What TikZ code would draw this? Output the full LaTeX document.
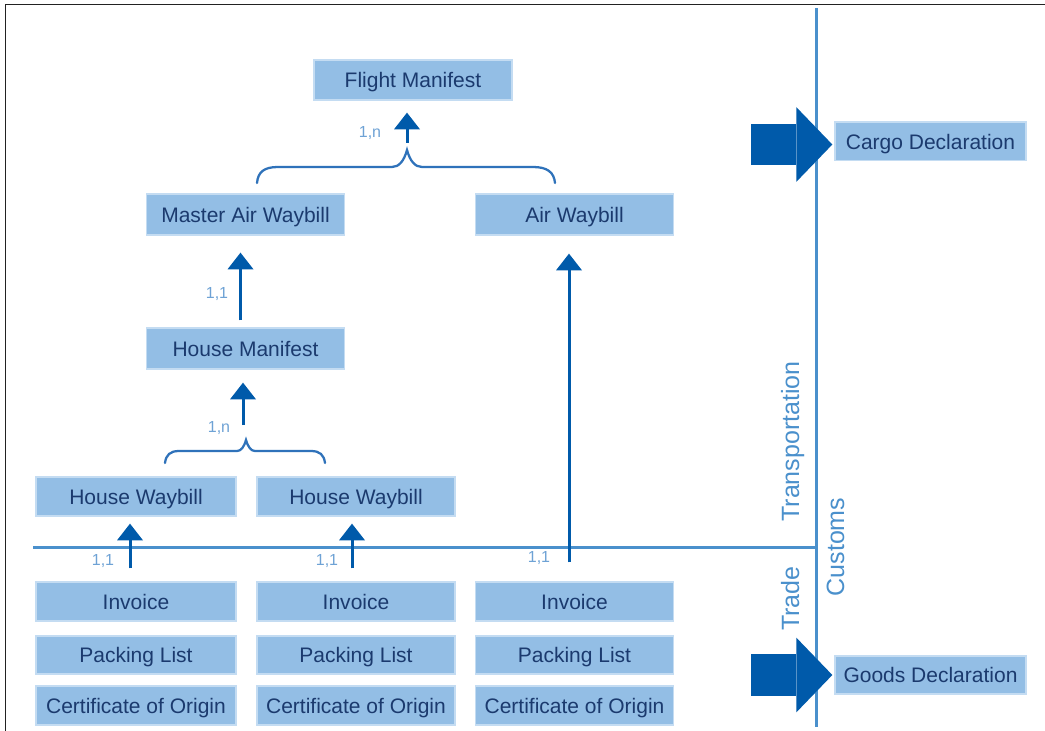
\documentclass[tikz,border=0pt]{standalone}
\usepackage{fontspec}
\setmainfont{Liberation Sans}
\usetikzlibrary{arrows.meta,calc}
\definecolor{boxfill}{HTML}{93BEE5}
\definecolor{boxedge}{HTML}{C4DCF2}
\definecolor{textcol}{HTML}{1B3A6E}
\definecolor{arrowcol}{HTML}{005AAA}
\definecolor{linecol}{HTML}{4A90CC}
\definecolor{labelcol}{HTML}{6EA2D5}
\definecolor{bracecol}{HTML}{2F72BA}
\definecolor{framecol}{HTML}{222222}
\newdimen\unitpx
\unitpx=0.75pt
\tikzset{
  box/.style={draw=boxedge, line width=1pt, fill=boxfill, minimum width=148.5pt,
    minimum height=30pt, inner sep=0pt, text=textcol,
    font=\fontsize{15.75}{18}\selectfont, text height=11.3pt, text depth=0pt},
  decl/.style={box, minimum width=143.25pt, minimum height=29pt},
  arr/.style={draw=arrowcol, line width=2.25pt,
    -{Triangle[width=19.5pt, length=12.5pt, line width=0pt]}},
  bigarr/.style={draw=arrowcol, line width=31pt,
    -{Triangle[width=56pt, length=27pt, line width=0pt]}},
  brace/.style={draw=bracecol, line width=1.7pt, line cap=round},
  divider/.style={draw=linecol, line width=2.25pt},
  lab/.style={text=labelcol, font=\fontsize{12}{12}\selectfont, anchor=base, inner sep=0pt},
  side/.style={text=linecol, font=\fontsize{18.75}{20}\selectfont, rotate=90, anchor=base, inner sep=0pt},
  frame/.style={draw=framecol, line width=1.3pt}
}
\begin{document}
\begin{tikzpicture}[x=0.75pt, y=-0.75pt]
\useasboundingbox (0,0) rectangle (1045,731);
\fill[white] (0,0) rectangle (1045,731);
\draw[frame] (5.5,731) -- (5.5,4.5) -- (1045,4.5);

% dividers
\coordinate (vtop) at (816,8);
\coordinate (vbot) at (816,727);
\coordinate (hleft) at (33,547);
\coordinate (hright) at (816,547);
\draw[divider] (vtop) -- (vbot);
\draw[divider] (hleft) -- (hright);

% nodes
\node[box] (fm) at (413,80) {Flight Manifest};
\node[box, minimum height=30.75pt] (maw) at (245.5,214.5) {Master Air Waybill};
\node[box, minimum height=30.75pt] (aw) at (574.5,214.5) {Air Waybill};
\node[box, minimum height=30.75pt] (hm) at (245.5,348.5) {House Manifest};
\node[box, minimum width=150pt, minimum height=29.25pt] (hw1) at (136,496.5) {House Waybill};
\node[box, minimum height=29.25pt] (hw2) at (356,496.5) {House Waybill};

\node[box, minimum width=150pt, minimum height=29.25pt] (inv1) at (136,601.5) {Invoice};
\node[box, minimum height=29.25pt] (inv2) at (356,601.5) {Invoice};
\node[box, minimum height=29.25pt] (inv3) at (574.5,601.5) {Invoice};
\node[box, minimum width=150pt, minimum height=28.5pt] (pl1) at (136,655) {Packing List};
\node[box, minimum height=28.5pt] (pl2) at (356,655) {Packing List};
\node[box, minimum height=28.5pt] (pl3) at (574.5,655) {Packing List};
\node[box, minimum width=150pt, minimum height=29.25pt] (co1) at (136,705.5) {Certificate of Origin};
\node[box, minimum height=29.25pt] (co2) at (356,705.5) {Certificate of Origin};
\node[box, minimum height=29.25pt] (co3) at (574.5,705.5) {Certificate of Origin};

\node[decl] (cargo) at (930.5,141.5) {Cargo Declaration};
\node[decl, minimum height=28.5pt] (goods) at (930.5,675) {Goods Declaration};

% braces
\coordinate (fmpeak) at (407,150);
\coordinate (hmpeak) at (246,440);
\draw[brace] (257,183) .. controls (258,172) and (264,167) .. (278,167) -- (392,167)
  .. controls (399,167) and (404,161) .. (fmpeak)
  .. controls (410,161) and (415,167) .. (422,167) -- (533,167)
  .. controls (547,167) and (554,172) .. (555,183);
\draw[brace] (165,463) .. controls (166,455) and (170,451) .. (179,451) -- (237,451)
  .. controls (241,451) and (244,447) .. (hmpeak)
  .. controls (248,447) and (251,451) .. (255,451) -- (311,451)
  .. controls (320,451) and (324,455) .. (325,463);

% arrows
\coordinate (fmstart) at (407,143);
\coordinate (hmstart) at (243,425);
\draw[arr, shorten >=12\unitpx] (fmstart) -- (fmstart |- fm.south);
\draw[arr, shorten >=13\unitpx] (hmstart) -- (hmstart |- hm.south);
\draw[arr, shorten <=7\unitpx, shorten >=17\unitpx] ([xshift=-5\unitpx]hm.north) -- ([xshift=-5\unitpx]maw.south);
\draw[arr, shorten <=13\unitpx, shorten >=7\unitpx] ([xshift=-6\unitpx]inv1.north) -- ([xshift=-6\unitpx]hw1.south);
\draw[arr, shorten <=13\unitpx, shorten >=7\unitpx] ([xshift=-4\unitpx]inv2.north) -- ([xshift=-4\unitpx]hw2.south);
\draw[arr, shorten <=19\unitpx, shorten >=18\unitpx] ([xshift=-5.5\unitpx]inv3.north) -- ([xshift=-5.5\unitpx]aw.south);

% big arrows
\coordinate (cargostart) at (751,144.5);
\coordinate (goodsstart) at (751,675);
\draw[bigarr, shorten >=2\unitpx] (cargostart) -- (cargostart -| cargo.west);
\draw[bigarr, shorten >=2\unitpx] (goodsstart) -- (goods.west);

% multiplicity labels
\node[lab] (l1) at (370,138) {1,n};
\node[lab] (l2) at (217,298) {1,1};
\node[lab] (l3) at (219,432) {1,n};
\node[lab] (l4) at (103,565) {1,1};
\node[lab] (l5) at (327,565) {1,1};
\node[lab] (l6) at (539,562) {1,1};

% side labels
\node[side] (tr) at (799,441.5) {Transportation};
\node[side] (td) at (799,598.5) {Trade};
\node[side] (cu) at (844,547) {Customs};
\end{tikzpicture}
\end{document}
